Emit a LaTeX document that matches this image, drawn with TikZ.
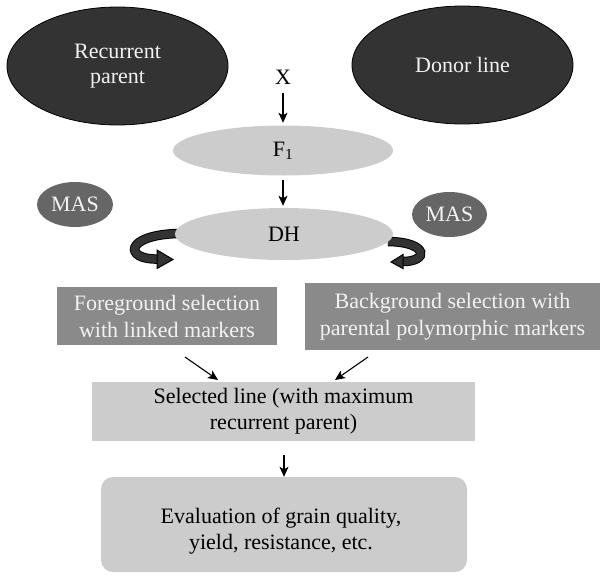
\documentclass[tikz,border=0pt]{standalone}
\usepackage{fontspec}
\setmainfont{Liberation Serif}
\usetikzlibrary{arrows.meta,shapes.geometric}
\definecolor{darkfill}{HTML}{333333}
\definecolor{lightfill}{HTML}{CCCCCC}
\definecolor{masfill}{HTML}{666666}
\definecolor{boxfill}{HTML}{8A8A8A}
\definecolor{paletext}{HTML}{F2F2F2}
\begin{document}
\begin{tikzpicture}[x=1pt,y=-1pt,
  every node/.style={font=\fontsize{22}{26}\selectfont},
  parent/.style={ellipse, draw=black, line width=0.8pt, fill=darkfill, text=paletext,
    inner sep=0pt, minimum width=221pt, minimum height=118pt, align=center,
    font=\fontsize{22}{25}\selectfont},
  stage/.style={ellipse, fill=lightfill, inner sep=0pt},
  masnode/.style={ellipse, fill=masfill, text=paletext, inner sep=0pt},
  selbox/.style={rectangle, fill=boxfill, text=paletext, align=center, inner sep=0pt,
    font=\fontsize{22}{27}\selectfont},
  graybox/.style={rectangle, fill=lightfill, align=center, inner sep=0pt,
    font=\fontsize{22}{26}\selectfont},
  flow/.style={-{Stealth[length=10pt,width=9pt,inset=2.5pt]}, line width=1.1pt},
  curlband/.style={line width=1pt, double=darkfill, double distance=7.5pt},
  curlhead/.style={fill=darkfill, draw=black, line width=1pt, line join=miter}
]
\useasboundingbox (0,0) rectangle (605,581);

% parents of the cross
\node[parent] (rp) at (117.5,66) {Recurrent\\parent};
\node[parent] (donor) at (462.5,65) {Donor line};
\node[inner sep=0pt] (cross) at (283,77) {X};

% curved block arrows leaving DH (drawn first so DH covers their roots)
\coordinate (bl0) at (178,233.5);
\coordinate (bl1) at (158,259);
\draw[curlband] (bl0) .. controls (124,235) and (124,260) .. (bl1);
\draw[curlhead] (157,250) -- (173,259.5) -- (157,268.5) -- cycle;
\coordinate (br0) at (388,241.5);
\coordinate (br1) at (402,261.5);
\draw[curlband] (br0) .. controls (429,242) and (429,262) .. (br1);
\draw[curlhead] (403,254.5) -- (391,262) -- (403,268.5) -- cycle;

% F1 and doubled haploid generations
\node[stage, minimum width=220pt, minimum height=50pt] (f1) at (283,150.5) {F\textsubscript{1}};
\node[stage, minimum width=218pt, minimum height=52pt] (dh) at (284,234) {DH};

% marker-assisted selection labels
\node[masnode, minimum width=76pt, minimum height=45pt] (masL) at (75,204.5) {MAS};
\node[masnode, minimum width=75pt, minimum height=45pt] (masR) at (449.5,214.5) {MAS};

% selection boxes
\node[selbox, minimum width=220pt, minimum height=58pt] (fg) at (167,316)
  {Foreground selection\\with linked markers};
\node[selbox, minimum width=295pt, minimum height=67pt] (bg) at (452.5,316.5)
  {Background selection with\\parental polymorphic markers};

% selected line and evaluation
\node[graybox, minimum width=383pt, minimum height=59pt] (sel) at (283.5,411.5)
  {Selected line (with maximum\\recurrent parent)};
\node[graybox, rounded corners=12pt, minimum width=366pt, minimum height=95pt] (eval) at (284,524.5) {};
\node[align=center, inner sep=0pt] (evaltext) at (281,531)
  {Evaluation of grain quality,\\yield, resistance, etc.};

% straight connectors
\draw[flow, shorten <=8.5pt, shorten >=2.5pt] (cross.south) -- (f1.north);
\draw[flow, shorten <=4.5pt, shorten >=2pt] (f1.south) -- (f1.south |- dh.north);
\coordinate (fgout) at (185,357);
\coordinate (selinL) at (218,380);
\coordinate (bgout) at (368,357);
\coordinate (selinR) at (335,380);
\draw[flow] (fgout) -- (selinL);
\draw[flow] (bgout) -- (selinR);
\draw[flow, shorten <=14pt] (sel.south -| eval.north) -- (eval.north);
\end{tikzpicture}
\end{document}
